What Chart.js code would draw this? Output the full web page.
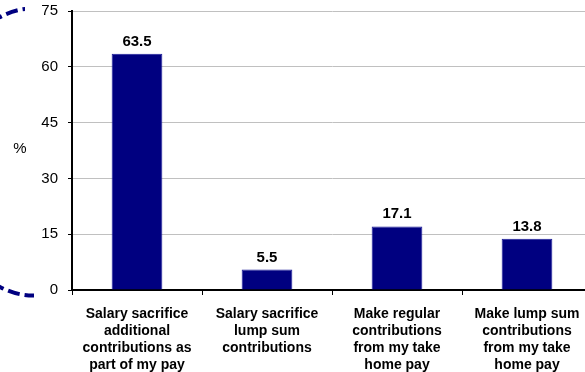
<!DOCTYPE html>
<html>
<head>
<meta charset="utf-8">
<script src="https://cdn.jsdelivr.net/npm/chart.js@4/dist/chart.umd.min.js"></script>
<style>
  html, body { margin: 0; padding: 0; background: #fff; overflow: hidden; }
  #wrap { width: 592px; height: 372px; }
</style>
</head>
<body>
<div id="wrap"><canvas id="myChart" width="592" height="372"></canvas></div>
<script>
// how people contribute extra to super (% of respondents)
var categories = [
  ["Salary sacrifice", "additional", "contributions as", "part of my pay"],
  ["Salary sacrifice", "lump sum", "contributions"],
  ["Make regular", "contributions", "from my take", "home pay"],
  ["Make lump sum", "contributions", "from my take", "home pay"]
];
var percents = [63.5, 5.5, 17.1, 13.8];
var yTicks = [0, 15, 30, 45, 60, 75];

var navy = "#000080";
var font = "'Liberation Sans', Arial, sans-serif";

// dashed swoosh in the left margin, behind everything
var swoosh = {
  id: "swoosh",
  beforeDraw: function(chart) {
    var ctx = chart.ctx;
    ctx.save();
    ctx.beginPath();
    ctx.rect(0, 0, 25, 150);
    ctx.rect(0, 150, 34, chart.height - 150);
    ctx.clip();
    ctx.beginPath();
    ctx.ellipse(33, 152, 97, 143.5, 0, 0, Math.PI * 2);
    ctx.setLineDash([12, 5]);
    ctx.lineWidth = 4;
    ctx.strokeStyle = navy;
    ctx.stroke();
    ctx.restore();
  }
};

// value on top of each bar + the horizontal "%" axis title
var barLabels = {
  id: "barLabels",
  afterDatasetsDraw: function(chart) {
    var ctx = chart.ctx;
    var meta = chart.getDatasetMeta(0);
    ctx.save();
    ctx.fillStyle = "#000";
    ctx.font = "bold 15px " + font;
    ctx.textAlign = "center";
    ctx.textBaseline = "alphabetic";
    meta.data.forEach(function(bar, i) {
      ctx.fillText(percents[i].toFixed(1), bar.x, bar.y - 8);
    });
    var area = chart.chartArea;
    ctx.font = "15px " + font;
    ctx.textBaseline = "middle";
    ctx.fillText("%", 20, (area.top + area.bottom) / 2 - 2);
    ctx.restore();
  }
};

new Chart(document.getElementById("myChart"), {
  type: "bar",
  data: {
    labels: categories,
    datasets: [{
      data: percents,
      backgroundColor: navy,
      borderColor: "#1a1a99",
      borderWidth: 1,
      categoryPercentage: 1,
      barPercentage: 0.39
    }]
  },
  options: {
    responsive: false,
    animation: false,
    layout: { padding: { top: 11, right: 0, bottom: 0, left: 0 } },
    plugins: {
      legend: { display: false },
      tooltip: { enabled: false }
    },
    scales: {
      x: {
        grid: {
          offset: true,
          drawOnChartArea: false,
          drawTicks: true,
          tickLength: 5,
          tickColor: "#000",
          tickWidth: 1
        },
        border: { color: "#000", width: 2 },
        ticks: {
          color: "#000",
          font: { family: font, size: 14, weight: "bold", lineHeight: 1.2 },
          padding: 11,
          maxRotation: 0,
          autoSkip: false
        },
        afterFit: function(scale) {
          scale.height = 82;
          scale.paddingLeft = 0;
          scale.paddingRight = 0;
        }
      },
      y: {
        min: 0,
        max: 75,
        afterBuildTicks: function(scale) {
          scale.ticks = yTicks.map(function(v) { return { value: v }; });
        },
        grid: {
          color: function(c) { return c.tick && c.tick.value === 0 ? "rgba(0,0,0,0)" : "#c0c0c0"; },
          tickColor: "#000",
          tickLength: 4,
          lineWidth: 1
        },
        border: { color: "#000", width: 2 },
        ticks: {
          color: "#000",
          font: { family: font, size: 15 },
          padding: 10
        },
        afterFit: function(scale) {
          scale.width = 72;
          scale.paddingTop = 0;
          scale.paddingBottom = 0;
        }
      }
    }
  },
  plugins: [swoosh, barLabels]
});
</script>
</body>
</html>
